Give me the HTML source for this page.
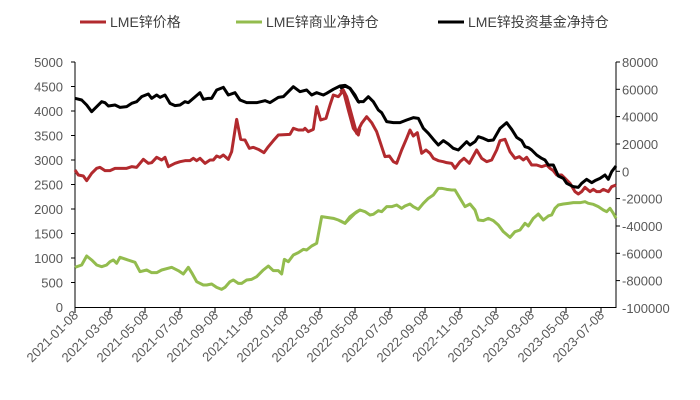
<!DOCTYPE html>
<html><head><meta charset="utf-8"><style>
body{margin:0;background:#fff;}
svg{display:block;font-family:"Liberation Sans","Noto Sans CJK SC",sans-serif;}
</style></head><body>
<svg width="700" height="400" viewBox="0 0 700 400" xmlns="http://www.w3.org/2000/svg">
<g font-size="14" fill="#404040">
<line x1="80" y1="22" x2="106" y2="22" stroke="#b22a2e" stroke-width="3"/>
<text x="110" y="27">LME锌价格</text>
<line x1="236" y1="22" x2="262" y2="22" stroke="#93bc4e" stroke-width="3"/>
<text x="266" y="27">LME锌商业净持仓</text>
<line x1="438" y1="22" x2="464" y2="22" stroke="#000" stroke-width="3"/>
<text x="468" y="27">LME锌投资基金净持仓</text>
</g>
<g stroke="#000" stroke-width="1" fill="none">
<line x1="75" y1="62" x2="75" y2="308"/>
<line x1="616" y1="62" x2="616" y2="308"/>
<line x1="75" y1="307.5" x2="616" y2="307.5"/>
</g>
<g id="lt" stroke="#000" stroke-width="1"></g>
<g font-size="13" fill="#595959" text-anchor="end">
<text x="63" y="67">5000</text><text x="63" y="91.5">4500</text><text x="63" y="116">4000</text><text x="63" y="140.5">3500</text><text x="63" y="165">3000</text><text x="63" y="189.5">2500</text><text x="63" y="214">2000</text><text x="63" y="238.5">1500</text><text x="63" y="263">1000</text><text x="63" y="287.5">500</text><text x="63" y="312">0</text>
</g>
<g font-size="13" fill="#595959" text-anchor="start">
<text x="622" y="67">80000</text><text x="622" y="94.3">60000</text><text x="622" y="121.6">40000</text><text x="622" y="149">20000</text><text x="622" y="176.3">0</text><text x="622" y="203.6">-20000</text><text x="622" y="231">-40000</text><text x="622" y="258.3">-60000</text><text x="622" y="285.6">-80000</text><text x="622" y="313">-100000</text>
</g>
<g stroke="#000" stroke-width="1">
<line x1="75" y1="62" x2="71" y2="62"/><line x1="75" y1="86.5" x2="71" y2="86.5"/><line x1="75" y1="111" x2="71" y2="111"/><line x1="75" y1="135.5" x2="71" y2="135.5"/><line x1="75" y1="160" x2="71" y2="160"/><line x1="75" y1="184.5" x2="71" y2="184.5"/><line x1="75" y1="209" x2="71" y2="209"/><line x1="75" y1="233.5" x2="71" y2="233.5"/><line x1="75" y1="258" x2="71" y2="258"/><line x1="75" y1="282.5" x2="71" y2="282.5"/>
<line x1="616" y1="62" x2="620" y2="62"/><line x1="616" y1="89.3" x2="620" y2="89.3"/><line x1="616" y1="116.6" x2="620" y2="116.6"/><line x1="616" y1="144" x2="620" y2="144"/><line x1="616" y1="171.3" x2="620" y2="171.3"/><line x1="616" y1="198.6" x2="620" y2="198.6"/><line x1="616" y1="226" x2="620" y2="226"/><line x1="616" y1="253.3" x2="620" y2="253.3"/><line x1="616" y1="280.6" x2="620" y2="280.6"/>
<line x1="75" y1="308" x2="75" y2="313"/><line x1="110" y1="308" x2="110" y2="313"/><line x1="145" y1="308" x2="145" y2="313"/><line x1="180" y1="308" x2="180" y2="313"/><line x1="215" y1="308" x2="215" y2="313"/><line x1="250" y1="308" x2="250" y2="313"/><line x1="285" y1="308" x2="285" y2="313"/><line x1="320" y1="308" x2="320" y2="313"/><line x1="355" y1="308" x2="355" y2="313"/><line x1="390" y1="308" x2="390" y2="313"/><line x1="425" y1="308" x2="425" y2="313"/><line x1="460" y1="308" x2="460" y2="313"/><line x1="496" y1="308" x2="496" y2="313"/><line x1="531" y1="308" x2="531" y2="313"/><line x1="566" y1="308" x2="566" y2="313"/><line x1="601" y1="308" x2="601" y2="313"/>
</g>
<g font-size="13" fill="#595959" text-anchor="end">
<text transform="translate(79,316) rotate(-45)">2021-01-08</text>
<text transform="translate(114,316) rotate(-45)">2021-03-08</text>
<text transform="translate(149,316) rotate(-45)">2021-05-08</text>
<text transform="translate(184,316) rotate(-45)">2021-07-08</text>
<text transform="translate(219,316) rotate(-45)">2021-09-08</text>
<text transform="translate(254,316) rotate(-45)">2021-11-08</text>
<text transform="translate(289,316) rotate(-45)">2022-01-08</text>
<text transform="translate(324,316) rotate(-45)">2022-03-08</text>
<text transform="translate(359,316) rotate(-45)">2022-05-08</text>
<text transform="translate(394,316) rotate(-45)">2022-07-08</text>
<text transform="translate(429,316) rotate(-45)">2022-09-08</text>
<text transform="translate(464,316) rotate(-45)">2022-11-08</text>
<text transform="translate(500,316) rotate(-45)">2023-01-08</text>
<text transform="translate(535,316) rotate(-45)">2023-03-08</text>
<text transform="translate(570,316) rotate(-45)">2023-05-08</text>
<text transform="translate(605,316) rotate(-45)">2023-07-08</text>
</g>
<g fill="none" stroke-width="3" stroke-linejoin="round">
<g transform="translate(60,50) scale(0.33333)">
<polyline vector-effect="non-scaling-stroke" stroke="#93bc4e" points="45,652 65,645 80,618 95,630 110,645 125,650 140,645 150,635 160,630 170,640 180,622 225,637 240,665 260,660 275,668 290,668 305,660 335,652 355,662 370,672 385,652 395,668 410,695 430,705 440,705 455,702 470,712 485,718 495,712 510,695 520,690 535,700 545,700 560,690 575,688 590,680 610,660 625,648 640,662 655,662 665,672 673,628 685,635 700,615 715,608 730,598 740,600 755,588 770,580 785,500 800,502 820,505 835,510 855,520 870,500 890,485 900,480"/>
<polyline vector-effect="non-scaling-stroke" stroke="#b22a2e" points="45,360 55,375 70,378 80,392 95,370 110,355 120,352 135,362 150,362 165,355 200,355 215,350 230,352 250,328 265,340 275,338 290,322 305,330 315,322 325,350 345,340 360,335 375,332 390,332 400,325 410,332 420,325 435,340 450,330 460,330 470,318 480,322 490,315 505,328 515,305 530,208 542,268 555,270 568,295 580,292 595,298 612,308 625,290 640,272 655,255 690,253 700,235 715,240 730,240 735,235 745,245 760,238 770,170 782,210 798,205 810,165 820,135 835,140 850,122 865,180 880,235 895,255 900,235"/>
<polyline vector-effect="non-scaling-stroke" stroke="#000" points="45,145 65,150 80,165 95,185 110,170 125,155 135,158 145,168 165,165 180,172 200,170 215,160 230,155 245,140 265,132 275,145 290,135 300,142 315,135 330,160 345,167 360,165 375,155 385,158 400,145 420,128 430,148 445,145 455,145 470,120 490,112 505,135 525,128 540,150 560,158 590,158 615,152 630,158 655,142 670,140 685,125 700,110 720,125 740,120 755,135 770,128 790,135 800,130 820,118 840,108 855,106 870,115 895,155 900,158"/>
</g>
<g transform="translate(340,50) scale(0.33333)">
<polyline vector-effect="non-scaling-stroke" stroke="#93bc4e" points="0,512 15,520 30,505 45,490 60,480 75,485 90,495 100,493 115,482 125,485 140,470 155,470 170,465 185,475 195,468 210,462 220,470 235,478 250,460 265,445 280,435 295,415 305,415 320,418 335,420 345,420 360,445 375,470 390,462 405,480 415,510 430,512 445,505 460,512 475,525 490,545 510,562 525,545 540,540 555,520 565,528 580,505 595,492 610,510 625,498 635,495 645,475 655,465 670,462 685,460 700,458 720,458 735,455 745,460 760,463 775,470 790,480 800,485 810,475 820,490 828,505"/>
<polyline vector-effect="non-scaling-stroke" stroke="#b22a2e" points="0,125 10,120 20,140 35,195 50,250 65,220 80,200 95,218 110,245 125,290 135,320 148,318 160,335 170,340 185,300 200,265 210,240 220,258 232,248 245,310 258,300 270,310 280,325 295,332 310,335 320,338 335,340 345,355 360,335 372,325 388,340 400,318 410,300 425,325 440,335 455,330 470,300 480,272 495,268 510,305 525,325 538,320 550,330 560,322 575,345 590,345 605,350 620,345 630,355 640,362 650,375 665,375 675,385 690,400 705,425 715,432 725,425 735,412 750,425 760,418 770,425 780,425 790,418 805,425 815,410 828,405"/>
<polyline vector-effect="non-scaling-stroke" stroke="#000" points="0,115 15,108 30,115 45,135 55,155 70,155 85,140 100,155 115,180 125,188 140,215 160,218 180,218 200,210 220,203 235,205 250,235 265,250 280,268 295,285 310,272 325,282 340,295 355,300 370,285 380,275 390,285 405,275 415,260 430,265 445,272 460,270 480,235 500,218 515,238 530,262 545,272 555,290 565,293 575,300 590,315 605,325 615,330 625,345 640,345 655,378 670,385 680,400 700,410 715,412 725,400 740,388 755,398 765,392 780,385 795,375 805,388 815,365 828,348"/>
</g>
</g>
</svg>
</body></html>
